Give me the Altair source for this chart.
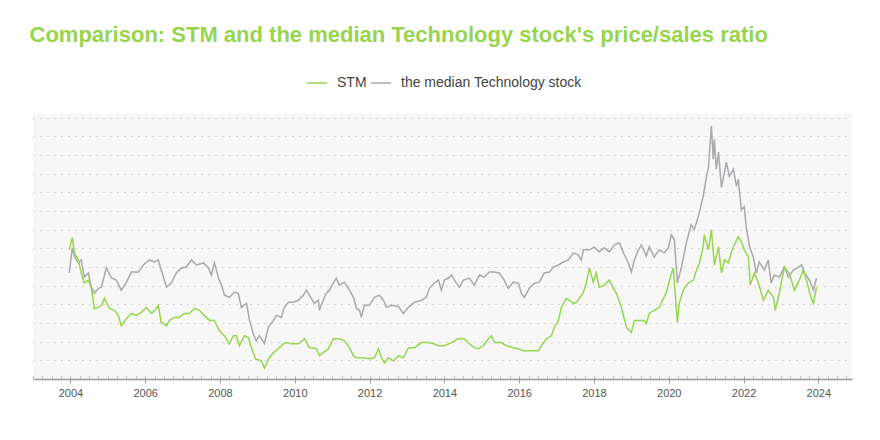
import altair as alt
import pandas as pd

TITLE = "Comparison: STM and the median Technology stock's price/sales ratio"
SERIES = ["STM", "the median Technology stock"]
COLORS = ["#97d54e", "#aaaaae"]
MAJOR_TICKS = list(range(2004, 2025, 2))
MINOR_TICKS = [2003 + q * 0.25 for q in range(0, 88)]

stm_years = [2003.97, 2004.05, 2004.11, 2004.21, 2004.29, 2004.37, 2004.48, 2004.56, 2004.64, 2004.75,
             2004.83, 2004.91, 2005.04, 2005.18, 2005.28, 2005.36, 2005.50, 2005.63, 2005.76, 2005.90,
             2006.03, 2006.17, 2006.30, 2006.35, 2006.43, 2006.57, 2006.65, 2006.78, 2006.91, 2007.05,
             2007.18, 2007.32, 2007.45, 2007.58, 2007.72, 2007.85, 2007.98, 2008.12, 2008.25, 2008.36,
             2008.44, 2008.52, 2008.65, 2008.76, 2008.84, 2008.95, 2009.11, 2009.19, 2009.32, 2009.43,
             2009.56, 2009.70, 2009.78, 2009.91, 2010.10, 2010.26, 2010.39, 2010.58, 2010.66, 2010.76,
             2010.90, 2011.03, 2011.19, 2011.33, 2011.46, 2011.57, 2011.65, 2011.83, 2011.99, 2012.13,
             2012.24, 2012.32, 2012.40, 2012.50, 2012.64, 2012.77, 2012.90, 2013.04, 2013.20, 2013.39,
             2013.57, 2013.71, 2013.84, 2014.00, 2014.19, 2014.37, 2014.53, 2014.67, 2014.80, 2014.91,
             2015.04, 2015.18, 2015.26, 2015.34, 2015.52, 2015.66, 2015.84, 2015.98, 2016.11, 2016.27,
             2016.51, 2016.59, 2016.73, 2016.86, 2016.94, 2017.05, 2017.13, 2017.26, 2017.34, 2017.45,
             2017.53, 2017.61, 2017.72, 2017.80, 2017.88, 2017.98, 2018.06, 2018.14, 2018.28, 2018.41,
             2018.52, 2018.60, 2018.73, 2018.87, 2019.00, 2019.08, 2019.21, 2019.35, 2019.40, 2019.48,
             2019.61, 2019.75, 2019.86, 2019.94, 2020.02, 2020.12, 2020.15, 2020.23, 2020.28, 2020.39,
             2020.52, 2020.66, 2020.74, 2020.82, 2020.92, 2020.95, 2021.06, 2021.14, 2021.22, 2021.33,
             2021.41, 2021.49, 2021.59, 2021.67, 2021.75, 2021.86, 2021.94, 2022.02, 2022.13, 2022.18,
             2022.29, 2022.40, 2022.53, 2022.66, 2022.80, 2022.85, 2022.96, 2023.09, 2023.22, 2023.36,
             2023.49, 2023.60, 2023.68, 2023.81, 2023.87, 2023.95]
stm_values = [6.92, 7.57, 6.76, 6.38, 5.68, 5.14, 5.30, 4.86, 3.78, 3.84,
              3.95, 4.32, 3.78, 3.68, 3.41, 2.86, 3.24, 3.51, 3.41, 3.57,
              3.84, 3.51, 3.78, 3.95, 3.03, 2.86, 3.14, 3.30, 3.30, 3.51,
              3.51, 3.78, 3.68, 3.41, 3.14, 3.14, 2.59, 2.32, 1.89, 2.32,
              2.32, 1.78, 2.32, 2.22, 1.68, 1.08, 0.97, 0.59, 1.14, 1.41,
              1.62, 1.89, 1.95, 1.89, 1.89, 2.16, 1.68, 1.62, 1.24, 1.41,
              1.62, 2.16, 2.16, 2.05, 1.68, 1.24, 1.14, 1.14, 1.08, 1.14,
              1.62, 1.14, 0.86, 1.14, 0.97, 1.24, 1.14, 1.68, 1.68, 1.95,
              1.95, 1.89, 1.78, 1.78, 1.95, 2.16, 2.16, 1.89, 1.68, 1.62,
              1.78, 2.16, 2.32, 1.95, 1.95, 1.78, 1.68, 1.62, 1.51, 1.51,
              1.51, 1.78, 2.16, 2.32, 2.76, 3.14, 3.84, 4.32, 4.22, 4.05,
              4.11, 4.32, 4.65, 5.19, 5.95, 5.19, 5.68, 4.92, 5.03, 5.30,
              4.86, 4.59, 3.84, 2.76, 2.49, 3.14, 3.14, 3.14, 2.97, 3.51,
              3.68, 3.84, 4.32, 4.65, 5.30, 5.95, 5.19, 3.03, 4.05, 4.76,
              5.14, 5.30, 5.84, 6.22, 7.08, 7.73, 6.92, 8.00, 6.11, 7.08,
              5.68, 6.38, 6.22, 6.76, 7.19, 7.62, 7.35, 6.92, 6.54, 5.03,
              5.68, 5.14, 4.22, 4.76, 4.38, 3.68, 4.65, 6.00, 5.68, 4.76,
              5.30, 5.84, 5.30, 4.32, 4.05, 4.92]

tech_years = [2003.97, 2004.05, 2004.11, 2004.21, 2004.29, 2004.37, 2004.48, 2004.56, 2004.64, 2004.75,
              2004.83, 2004.96, 2005.10, 2005.23, 2005.36, 2005.50, 2005.63, 2005.82, 2005.95, 2006.11,
              2006.25, 2006.35, 2006.43, 2006.57, 2006.70, 2006.83, 2006.97, 2007.10, 2007.24, 2007.37,
              2007.56, 2007.69, 2007.77, 2007.85, 2007.96, 2008.04, 2008.12, 2008.25, 2008.39, 2008.49,
              2008.57, 2008.71, 2008.79, 2008.89, 2008.97, 2009.05, 2009.19, 2009.29, 2009.43, 2009.51,
              2009.64, 2009.72, 2009.83, 2009.96, 2010.10, 2010.23, 2010.31, 2010.39, 2010.52, 2010.63,
              2010.66, 2010.76, 2010.84, 2010.93, 2011.03, 2011.11, 2011.19, 2011.33, 2011.46, 2011.57,
              2011.65, 2011.73, 2011.78, 2011.86, 2011.99, 2012.13, 2012.26, 2012.37, 2012.45, 2012.58,
              2012.77, 2012.90, 2013.04, 2013.20, 2013.39, 2013.52, 2013.60, 2013.73, 2013.84, 2013.92,
              2014.00, 2014.11, 2014.19, 2014.32, 2014.40, 2014.51, 2014.67, 2014.80, 2014.94, 2015.07,
              2015.20, 2015.34, 2015.47, 2015.60, 2015.71, 2015.84, 2015.98, 2016.06, 2016.14, 2016.27,
              2016.41, 2016.54, 2016.67, 2016.81, 2016.91, 2017.05, 2017.18, 2017.32, 2017.45, 2017.58,
              2017.66, 2017.72, 2017.88, 2018.01, 2018.14, 2018.28, 2018.41, 2018.55, 2018.68, 2018.79,
              2018.92, 2019.00, 2019.08, 2019.19, 2019.27, 2019.40, 2019.48, 2019.61, 2019.75, 2019.88,
              2019.99, 2020.07, 2020.15, 2020.23, 2020.34, 2020.47, 2020.60, 2020.68, 2020.79, 2020.92,
              2021.01, 2021.06, 2021.09, 2021.14, 2021.19, 2021.22, 2021.27, 2021.33, 2021.35, 2021.41,
              2021.49, 2021.54, 2021.62, 2021.73, 2021.81, 2021.86, 2021.94, 2022.02, 2022.07, 2022.16,
              2022.26, 2022.34, 2022.42, 2022.56, 2022.66, 2022.74, 2022.82, 2022.96, 2023.09, 2023.20,
              2023.33, 2023.47, 2023.55, 2023.63, 2023.76, 2023.87, 2023.95]
tech_values = [5.68, 7.03, 6.54, 6.22, 6.38, 5.46, 5.68, 4.92, 4.59, 4.86,
               4.92, 5.95, 5.41, 5.30, 4.76, 5.19, 5.73, 5.73, 6.11, 6.38,
               6.27, 6.38, 5.84, 4.92, 5.14, 5.68, 5.95, 6.00, 6.38, 6.11,
               6.22, 5.95, 5.57, 6.22, 5.41, 5.03, 4.49, 4.38, 4.65, 4.59,
               3.84, 4.05, 3.14, 2.43, 2.05, 2.32, 1.89, 2.76, 3.14, 3.41,
               3.30, 3.84, 4.11, 4.11, 4.22, 4.49, 4.76, 4.49, 4.05, 4.22,
               3.68, 4.22, 4.59, 4.76, 5.14, 5.41, 5.03, 5.19, 4.76, 4.38,
               3.78, 3.68, 3.30, 3.95, 3.95, 4.38, 4.49, 4.22, 3.84, 3.95,
               3.89, 3.51, 3.84, 4.11, 4.22, 4.38, 4.86, 5.14, 5.30, 4.76,
               5.30, 5.41, 5.57, 5.14, 4.92, 5.30, 5.41, 5.03, 5.57, 5.46,
               5.73, 5.73, 5.68, 5.30, 4.86, 5.19, 5.14, 4.59, 4.38, 4.86,
               5.14, 5.19, 5.68, 5.73, 6.00, 6.11, 6.27, 6.38, 6.76, 6.65,
               6.38, 6.92, 6.92, 7.08, 6.81, 7.03, 6.81, 7.19, 7.30, 6.76,
               6.22, 5.73, 6.38, 6.92, 7.19, 6.59, 7.08, 6.54, 6.92, 6.76,
               7.03, 7.73, 7.46, 5.14, 6.00, 7.30, 8.27, 8.00, 8.70, 9.78,
               10.86, 11.35, 12.16, 13.57, 11.78, 12.86, 11.24, 12.16, 11.62, 10.27,
               11.08, 11.62, 10.86, 11.24, 10.32, 10.70, 9.08, 9.24, 8.16, 7.08,
               6.54, 5.68, 6.27, 5.84, 6.38, 5.14, 5.57, 5.46, 6.00, 5.46,
               5.84, 6.00, 6.11, 5.68, 5.30, 4.76, 5.41]

df = pd.concat([
    pd.DataFrame({"year": tech_years, "value": tech_values, "series": SERIES[1], "order": 0}),
    pd.DataFrame({"year": stm_years, "value": stm_values, "series": SERIES[0], "order": 1}),
], ignore_index=True)

FONT = "Liberation Sans"
X_SCALE = alt.Scale(domain=[2003.0, 2024.9], nice=False, zero=False)
Y_SCALE = alt.Scale(domain=[0, 14.2], nice=False)

lines = alt.Chart(df).mark_line(strokeWidth=1.5).encode(
    x=alt.X("year:Q", scale=X_SCALE,
            axis=alt.Axis(values=MAJOR_TICKS, format="d", title=None, grid=False, orient="bottom",
                          labelFontSize=11, labelColor="#555555", labelFont=FONT,
                          tickColor="#999999", tickSize=4, labelPadding=4,
                          domainColor="#999999", domainWidth=1.5)),
    y=alt.Y("value:Q", scale=Y_SCALE,
            axis=alt.Axis(values=list(range(1, 15)), labels=False, ticks=False, domain=False,
                          title=None, grid=True, gridDash=[1, 6], gridColor="#b5b5b5", gridWidth=1)),
    color=alt.Color("series:N",
                    scale=alt.Scale(domain=SERIES, range=COLORS),
                    legend=alt.Legend(orient="none", legendX=273, legendY=-42, direction="horizontal",
                                      title=None, symbolType="stroke", symbolStrokeWidth=1.5,
                                      symbolSize=400, labelFontSize=14, labelColor="#444444",
                                      labelFont=FONT, columnPadding=1, labelOffset=9,
                                      labelLimit=0)),
    detail="order:N",
)

minor = alt.Chart(df).mark_point(opacity=0).encode(
    x=alt.X("year:Q", scale=X_SCALE,
            axis=alt.Axis(values=MINOR_TICKS, labels=False, title=None, grid=False, domain=False,
                          orient="bottom", tickColor="#aaaaaa", tickSize=2, offset=-3)),
)

chart = alt.layer(lines, minor).resolve_axis(x="independent").properties(
    width=819,
    height=265,
    title=alt.Title(TITLE, anchor="start", fontSize=22, color="#97d54e", font=FONT,
                    fontWeight="bold", offset=25, dx=-3),
    padding={"left": 21, "top": 16, "right": 18, "bottom": 5},
).configure_view(fill="#f7f7f7", strokeWidth=0)

chart.save("out.html", embed_options={"renderer": "svg", "actions": False})
